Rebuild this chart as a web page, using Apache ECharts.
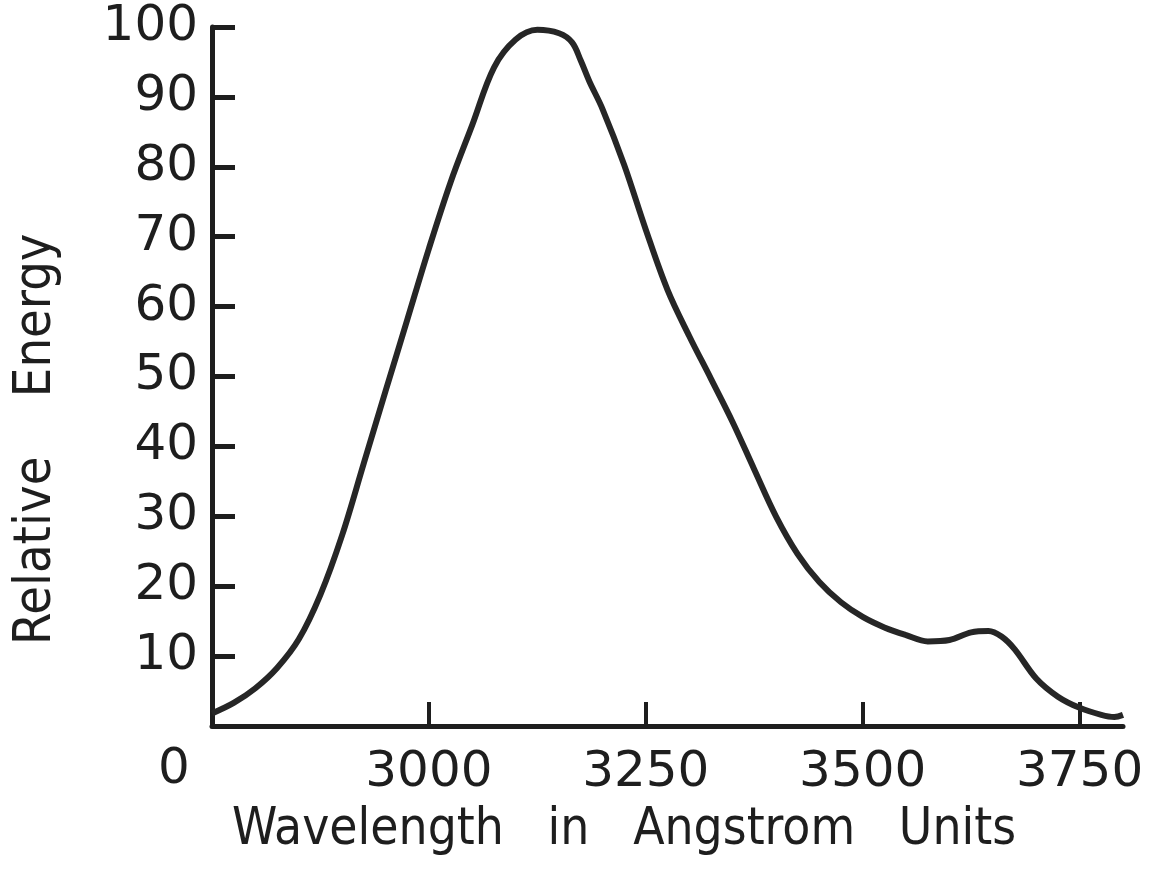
<!DOCTYPE html>
<html>
<head>
<meta charset="utf-8">
<title>Relative Energy</title>
<script src="https://cdn.jsdelivr.net/npm/echarts@6/dist/echarts.min.js"></script>
<style>
    html, body {
        margin: 0;
        padding: 0;
        background: #ffffff;
    }
    #myChart {
        width: 1160px;
        height: 870px;
    }
</style>
</head>
<body>
<div id="myChart"></div>
<script>
    // wavelength (Angstrom) and relative energy
    let wavelength = [2750, 2775, 2800, 2825, 2850, 2875, 2900, 2925, 2950, 2975,
        3000, 3025, 3050, 3075, 3100, 3125, 3150, 3165, 3175, 3185,
        3200, 3225, 3250, 3275, 3300, 3325, 3350, 3375, 3400, 3425,
        3450, 3475, 3500, 3525, 3550, 3575, 3600, 3625, 3645, 3660,
        3675, 3700, 3725, 3750, 3775, 3790, 3800]
    let energy = [1.8, 3.3, 5.4, 8.3, 12.4, 18.8, 27.3, 37.6, 47.9, 58.1,
        68.3, 77.8, 86.0, 94.2, 98.2, 99.6, 99.1, 97.8, 95.2, 92.2,
        88.3, 80.3, 71.0, 62.4, 55.8, 49.7, 43.5, 36.7, 30.0, 24.6,
        20.6, 17.7, 15.6, 14.1, 13.0, 12.1, 12.3, 13.4, 13.6, 12.8,
        11.0, 6.8, 4.2, 2.6, 1.6, 1.3, 1.6]
    let xTicks = [3000, 3250, 3500, 3750]
    let yTicks = [10, 20, 30, 40, 50, 60, 70, 80, 90, 100]

    let ink = '#1e1e1e'
    let font = 'DejaVu Sans'
    let titleFont = '"Liberation Sans Narrow", "DejaVu Sans Condensed", "DejaVu Sans"'

    let points = wavelength.map(function (w, i) { return [w, energy[i]] })

    let myChart = echarts.init(document.getElementById('myChart'))
    myChart.setOption({
        backgroundColor: '#ffffff',
        animation: false,
        grid: {
            left: 212,
            right: 37,
            top: 27,
            bottom: 144
        },
        xAxis: {
            type: 'value',
            min: 2750,
            max: 3800,
            splitLine: {show: false},
            axisLine: {lineStyle: {color: ink, width: 5}},
            axisTick: {
                inside: true,
                length: 24,
                customValues: xTicks,
                lineStyle: {color: ink, width: 4}
            },
            axisLabel: {
                customValues: xTicks,
                formatter: function (v) { return String(v) },
                margin: 22,
                color: ink,
                fontFamily: font,
                fontSize: 50
            }
        },
        yAxis: {
            type: 'value',
            min: 0,
            max: 100,
            interval: 10,
            splitLine: {show: false},
            axisLine: {show: true, lineStyle: {color: ink, width: 5}},
            axisTick: {
                inside: true,
                length: 23,
                customValues: yTicks,
                lineStyle: {color: ink, width: 5}
            },
            axisLabel: {
                customValues: yTicks,
                margin: 14,
                color: ink,
                fontFamily: font,
                fontSize: 50
            }
        },
        graphic: [
            {
                type: 'text',
                left: 158,
                top: 745,
                style: {text: '0', fill: ink, font: '50px "DejaVu Sans"'}
            },
            {
                type: 'text',
                x: 232,
                y: 805,
                style: {
                    text: 'Wavelength   in   Angstrom   Units',
                    fill: ink,
                    font: '51px ' + titleFont
                }
            },
            {
                type: 'text',
                x: 10,
                y: 645,
                rotation: Math.PI / 2,
                style: {
                    text: 'Relative    Energy',
                    fill: ink,
                    font: '52px ' + titleFont
                }
            }
        ],
        series: [{
            type: 'line',
            data: points,
            smooth: 0.35,
            showSymbol: false,
            lineStyle: {color: '#262626', width: 6}
        }]
    })
</script>
</body>
</html>
